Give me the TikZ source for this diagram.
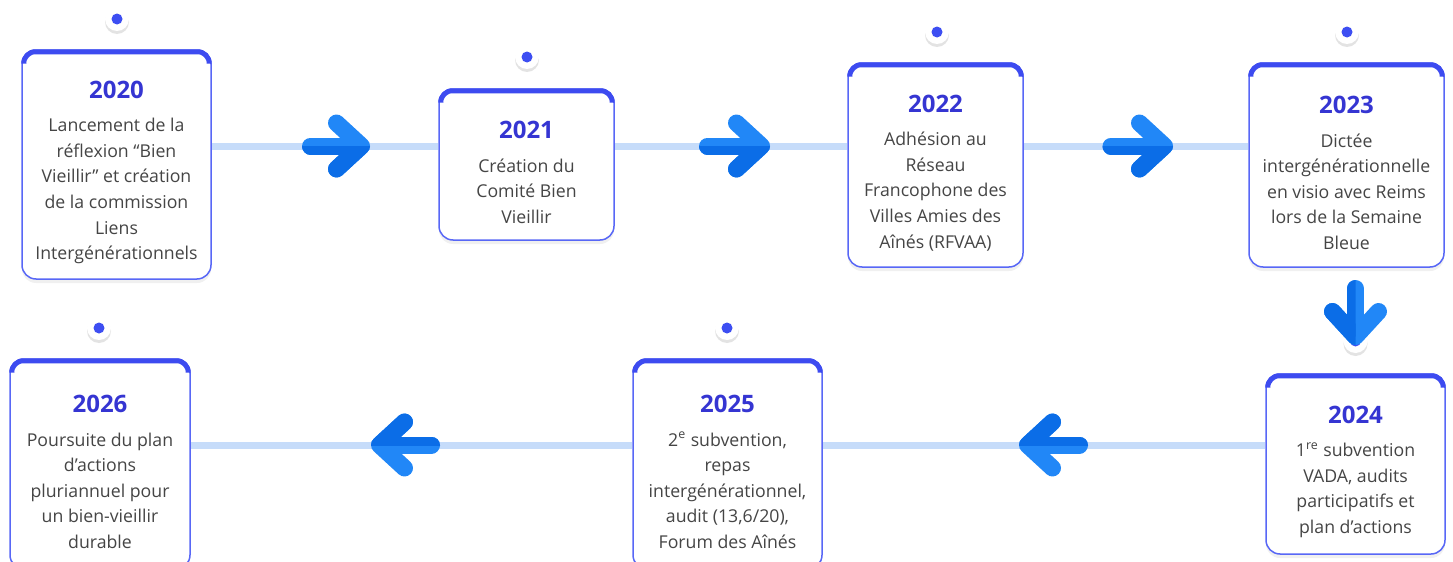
\documentclass[tikz,border=0pt]{standalone}
\usepackage{fontspec}
\setmainfont{Open Sans}
\usetikzlibrary{arrows.meta,shadows}

\definecolor{boxline}{HTML}{5867F6}
\definecolor{topline}{HTML}{3D4BF0}
\definecolor{yearblue}{HTML}{3535D2}
\definecolor{bodygray}{HTML}{454545}
\definecolor{trackblue}{HTML}{C6DCFA}
\definecolor{arrowlight}{HTML}{2187F7}
\definecolor{arrowdark}{HTML}{0B6DE7}
\definecolor{dotblue}{HTML}{3D4EF2}

% year line at the head of each card
\newcommand{\yr}[1]{{\fontsize{12}{14}\selectfont\bfseries\color{yearblue}\rule{0pt}{16.5pt}#1}\\[4pt]}

\begin{document}
\begin{tikzpicture}
            [x=0.5pt, y=-0.5pt,
             card/.style = {draw=boxline, line width=0.75pt, fill=white, rounded corners=7pt,
                            align=center, text=bodygray, inner sep=0pt,
                            font=\fontsize{8.85}{12.8}\selectfont,
                            drop shadow={shadow xshift=0pt, shadow yshift=-2pt, opacity=0.12}},
             topbar/.style = {draw=topline, line width=5pt, rounded corners=7pt},
             dot/.style = {circle, fill=white, minimum size=12pt, inner sep=0pt,
                           drop shadow={shadow xshift=0pt, shadow yshift=-1.5pt, opacity=0.22},
                           path picture={\fill[dotblue] (path picture bounding box.center) circle (2.75pt);}},
             track/.style = {draw=trackblue, line width=3.5pt},
             flow/.style = {draw=arrowlight, line width=8.5pt, line cap=round,
                            -{Straight Barb[length=12.5pt, width=23pt, round]}}]
            \useasboundingbox (0,0) rectangle (1453,562);
            \coordinate (row1) at (0,146);
            \coordinate (row2) at (0,445);
            % cards
            \node[card, minimum width=94.5pt, minimum height=114.5pt] (b20) at (116.5,164.5)
                {\yr{2020}Lancement de la\\réflexion “Bien\\Vieillir” et création\\de la commission\\Liens\\Intergénérationnels};
            \node[card, minimum width=87.5pt, minimum height=75.5pt] (b21) at (526.5,164.5)
                {\yr{2021}Création du\\Comité Bien\\Vieillir};
            \node[card, minimum width=87.5pt, minimum height=102pt] (b22) at (935.5,165)
                {\yr{2022}Adhésion au\\Réseau\\Francophone des\\Villes Amies des\\Aînés (RFVAA)};
            \node[card, minimum width=97.5pt, minimum height=102pt] (b23) at (1346.5,165)
                {\yr{2023}Dictée\\intergénérationnelle\\en visio avec Reims\\lors de la Semaine\\Bleue};
            \node[card, minimum width=89.5pt, minimum height=90pt] (b24) at (1355.5,464)
                {\yr{2024}1\textsuperscript{re} subvention\\VADA, audits\\participatifs et\\plan d’actions};
            \node[card, minimum width=94.5pt, minimum height=105pt] (b25) at (727.5,464)
                {\yr{2025}2\textsuperscript{e} subvention,\\repas\\intergénérationnel,\\audit (13,6/20),\\Forum des Aînés};
            \node[card, minimum width=90pt, minimum height=105pt] (b26) at (100,464)
                {\yr{2026}Poursuite du plan\\d’actions\\pluriannuel pour\\un bien-vieillir\\durable};
            % thick top edge of each card
            \begin{scope}
                \clip[rounded corners=7pt] (b20.north west) rectangle (b20.south east);
                \draw[topbar] ([yshift=-6pt]b20.north west) -- (b20.north west) -- (b20.north east) -- ([yshift=-6pt]b20.north east);
            \end{scope}
            \begin{scope}
                \clip[rounded corners=7pt] (b21.north west) rectangle (b21.south east);
                \draw[topbar] ([yshift=-6pt]b21.north west) -- (b21.north west) -- (b21.north east) -- ([yshift=-6pt]b21.north east);
            \end{scope}
            \begin{scope}
                \clip[rounded corners=7pt] (b22.north west) rectangle (b22.south east);
                \draw[topbar] ([yshift=-6pt]b22.north west) -- (b22.north west) -- (b22.north east) -- ([yshift=-6pt]b22.north east);
            \end{scope}
            \begin{scope}
                \clip[rounded corners=7pt] (b23.north west) rectangle (b23.south east);
                \draw[topbar] ([yshift=-6pt]b23.north west) -- (b23.north west) -- (b23.north east) -- ([yshift=-6pt]b23.north east);
            \end{scope}
            \begin{scope}
                \clip[rounded corners=7pt] (b24.north west) rectangle (b24.south east);
                \draw[topbar] ([yshift=-6pt]b24.north west) -- (b24.north west) -- (b24.north east) -- ([yshift=-6pt]b24.north east);
            \end{scope}
            \begin{scope}
                \clip[rounded corners=7pt] (b25.north west) rectangle (b25.south east);
                \draw[topbar] ([yshift=-6pt]b25.north west) -- (b25.north west) -- (b25.north east) -- ([yshift=-6pt]b25.north east);
            \end{scope}
            \begin{scope}
                \clip[rounded corners=7pt] (b26.north west) rectangle (b26.south east);
                \draw[topbar] ([yshift=-6pt]b26.north west) -- (b26.north west) -- (b26.north east) -- ([yshift=-6pt]b26.north east);
            \end{scope}
            % tracks between the cards
            \draw[track] (b20.east |- row1) -- (b21.west |- row1);
            \draw[track] (b21.east |- row1) -- (b22.west |- row1);
            \draw[track] (b22.east |- row1) -- (b23.west |- row1);
            \draw[track] (b24.west |- row2) -- (b25.east |- row2);
            \draw[track] (b25.west |- row2) -- (b26.east |- row2);
            % dots
            \node[dot] (d20) at (117,19) {};
            \node[dot] (d21) at (527,57) {};
            \node[dot] (d22) at (937,32) {};
            \node[dot] (d23) at (1347,32) {};
            \node[dot] (d24) at (1355.5,341) {};
            \node[dot] (d25) at (727,328) {};
            \node[dot] (d26) at (99,328) {};
            % arrows, darker on one half
            \coordinate (a1s) at (310.5,146);  \coordinate (a1e) at (370,146);
            \coordinate (a2s) at (707.5,146);  \coordinate (a2e) at (770,146);
            \coordinate (a3s) at (1111,146);   \coordinate (a3e) at (1173,146);
            \coordinate (a4s) at (1355.5,288.5); \coordinate (a4e) at (1355.5,345);
            \coordinate (a5s) at (1079.5,445); \coordinate (a5e) at (1019,445);
            \coordinate (a6s) at (431.5,445);  \coordinate (a6e) at (371,445);
            \draw[flow] (a1s) -- (a1e);
            \draw[flow] (a2s) -- (a2e);
            \draw[flow] (a3s) -- (a3e);
            \draw[flow] (a4s) -- (a4e);
            \draw[flow] (a5s) -- (a5e);
            \draw[flow] (a6s) -- (a6e);
            \begin{scope}
                \clip (a1s) ++(-20,0) rectangle ++(100,40);
                \draw[flow, draw=arrowdark] (a1s) -- (a1e);
            \end{scope}
            \begin{scope}
                \clip (a2s) ++(-20,0) rectangle ++(100,40);
                \draw[flow, draw=arrowdark] (a2s) -- (a2e);
            \end{scope}
            \begin{scope}
                \clip (a3s) ++(-20,0) rectangle ++(100,40);
                \draw[flow, draw=arrowdark] (a3s) -- (a3e);
            \end{scope}
            \begin{scope}
                \clip (a4s) ++(0,-20) rectangle ++(-40,100);
                \draw[flow, draw=arrowdark] (a4s) -- (a4e);
            \end{scope}
            \begin{scope}
                \clip (a5s) ++(20,0) rectangle ++(-100,-40);
                \draw[flow, draw=arrowdark] (a5s) -- (a5e);
            \end{scope}
            \begin{scope}
                \clip (a6s) ++(20,0) rectangle ++(-100,-40);
                \draw[flow, draw=arrowdark] (a6s) -- (a6e);
            \end{scope}
        \end{tikzpicture}
\end{document}
